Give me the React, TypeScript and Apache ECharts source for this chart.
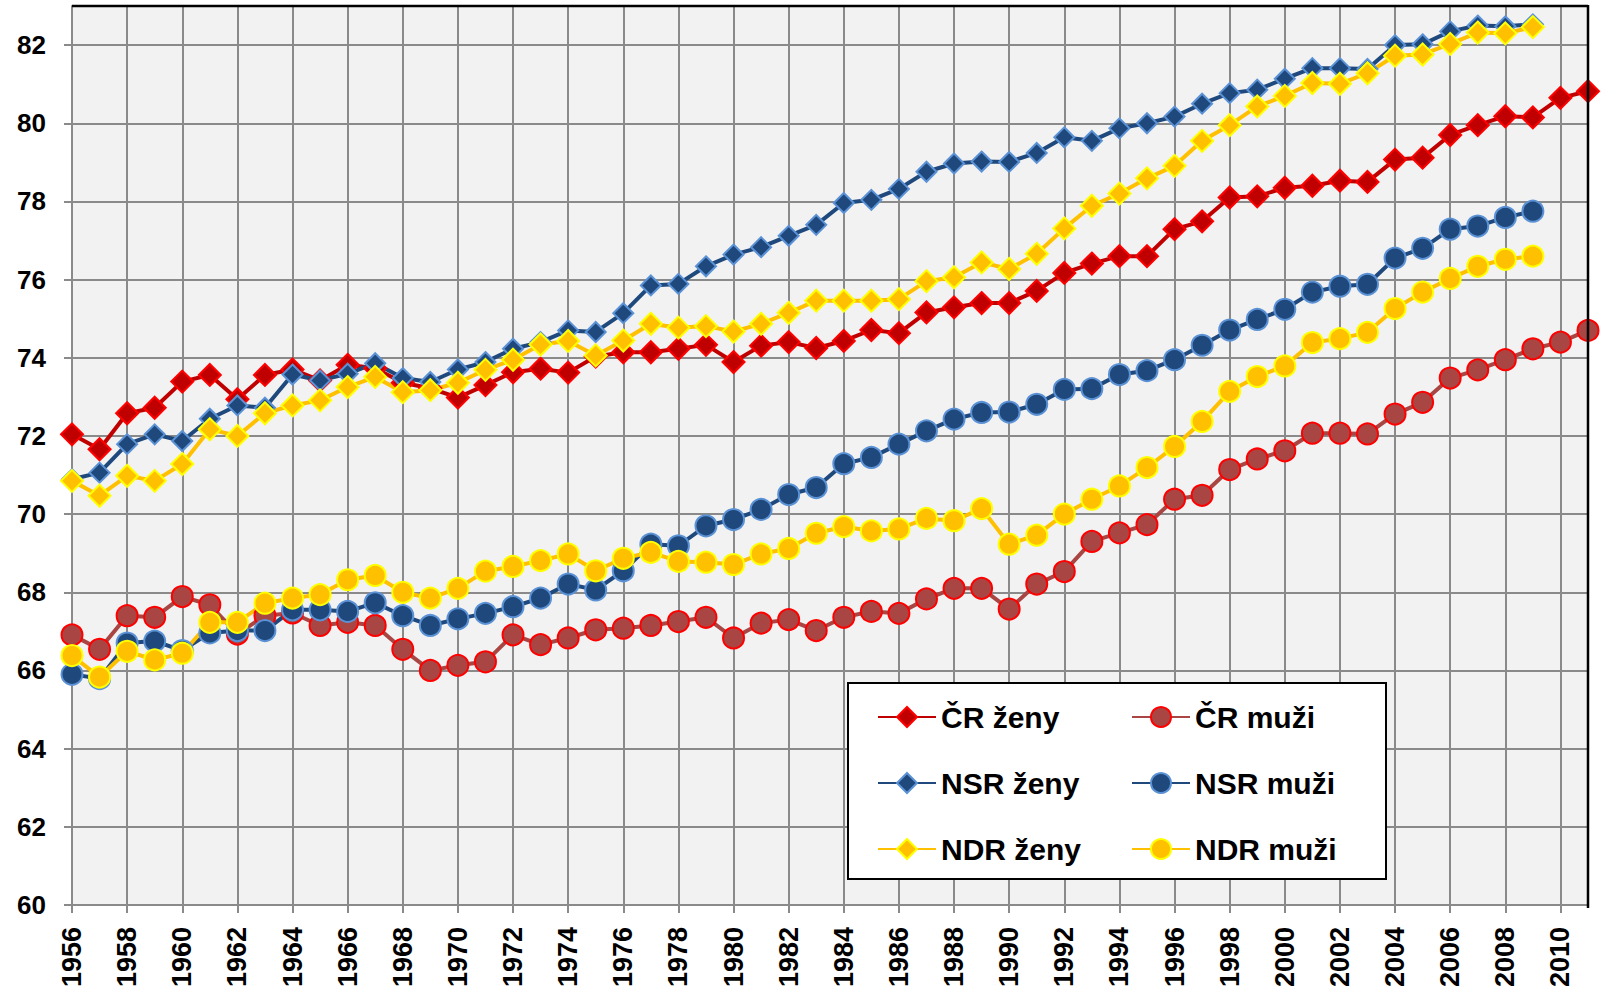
import React, { useEffect, useRef } from "react";
import * as echarts from "echarts";

const years = [
  "1956", "1957", "1958", "1959", "1960", "1961", "1962", "1963", "1964", "1965",
  "1966", "1967", "1968", "1969", "1970", "1971", "1972", "1973", "1974", "1975",
  "1976", "1977", "1978", "1979", "1980", "1981", "1982", "1983", "1984", "1985",
  "1986", "1987", "1988", "1989", "1990", "1991", "1992", "1993", "1994", "1995",
  "1996", "1997", "1998", "1999", "2000", "2001", "2002", "2003", "2004", "2005",
  "2006", "2007", "2008", "2009", "2010", "2011",
];

const crZeny = [
  72.04, 71.66, 72.58, 72.72, 73.39, 73.56, 72.94, 73.56, 73.7, 73.42,
  73.82, 73.73, 73.36, 73.22, 72.98, 73.3, 73.63, 73.72, 73.62, 74.03,
  74.14, 74.14, 74.23, 74.33, 73.89, 74.31, 74.4, 74.25, 74.43, 74.71,
  74.63, 75.16, 75.29, 75.4, 75.4, 75.71, 76.17, 76.41, 76.6, 76.6,
  77.29, 77.49, 78.1, 78.13, 78.35, 78.4, 78.53, 78.5, 79.07, 79.12,
  79.7, 79.95, 80.18, 80.15, 80.65, 80.82,
];

const crMuzi = [
  66.91, 66.54, 67.4, 67.36, 67.89, 67.68, 66.93, 67.4, 67.47, 67.15,
  67.23, 67.15, 66.54, 66.0, 66.13, 66.22, 66.91, 66.66, 66.83, 67.04,
  67.08, 67.15, 67.25, 67.36, 66.83, 67.21, 67.3, 67.02, 67.36, 67.51,
  67.46, 67.83, 68.1, 68.1, 67.57, 68.21, 68.53, 69.3, 69.52, 69.73,
  70.38, 70.48, 71.14, 71.41, 71.62, 72.07, 72.07, 72.05, 72.56, 72.86,
  73.48, 73.69, 73.95, 74.23, 74.4, 74.7,
];

const nsrZeny = [
  70.89, 71.06, 71.79, 72.04, 71.87, 72.44, 72.78, 72.72, 73.57, 73.42,
  73.59, 73.86, 73.48, 73.38, 73.7, 73.89, 74.23, 74.4, 74.7, 74.66,
  75.14, 75.85, 75.89, 76.34, 76.64, 76.83, 77.12, 77.4, 77.96, 78.04,
  78.32, 78.76, 78.97, 79.02, 79.01, 79.24, 79.64, 79.55, 79.87, 80.0,
  80.17, 80.5, 80.77, 80.86, 81.14, 81.41, 81.41, 81.39, 82.0, 82.02,
  82.35, 82.5, 82.48, 82.53, null, null,
];

const nsrMuzi = [
  65.9, 65.79, 66.7, 66.75, 66.51, 66.96, 67.02, 67.02, 67.55, 67.55,
  67.51, 67.73, 67.4, 67.15, 67.32, 67.46, 67.63, 67.85, 68.21, 68.06,
  68.55, 69.23, 69.19, 69.7, 69.86, 70.12, 70.5, 70.68, 71.29, 71.45,
  71.79, 72.13, 72.43, 72.6, 72.61, 72.81, 73.19, 73.21, 73.57, 73.67,
  73.95, 74.32, 74.71, 74.98, 75.24, 75.68, 75.83, 75.88, 76.55, 76.8,
  77.29, 77.37, 77.59, 77.75, null, null,
];

const ndrZeny = [
  70.85, 70.47, 70.98, 70.85, 71.28, 72.17, 72.0, 72.58, 72.78, 72.91,
  73.25, 73.51, 73.12, 73.17, 73.36, 73.69, 73.95, 74.34, 74.43, 74.06,
  74.44, 74.87, 74.77, 74.81, 74.67, 74.87, 75.15, 75.46, 75.46, 75.46,
  75.5, 75.96, 76.06, 76.44, 76.27, 76.66, 77.31, 77.89, 78.2, 78.59,
  78.91, 79.55, 79.95, 80.43, 80.7, 81.03, 81.01, 81.28, 81.73, 81.76,
  82.03, 82.32, 82.3, 82.46, null, null,
];

const ndrMuzi = [
  66.38, 65.83, 66.49, 66.27, 66.44, 67.23, 67.23, 67.72, 67.85, 67.94,
  68.32, 68.43, 68.0, 67.85, 68.1, 68.54, 68.66, 68.81, 68.98, 68.55,
  68.87, 69.02, 68.79, 68.77, 68.71, 68.98, 69.12, 69.51, 69.68, 69.57,
  69.62, 69.89, 69.83, 70.14, 69.23, 69.46, 70.0, 70.38, 70.72, 71.19,
  71.73, 72.37, 73.14, 73.52, 73.79, 74.39, 74.49, 74.65, 75.26, 75.68,
  76.03, 76.34, 76.52, 76.6, null, null,
];

const seriesNames = ["ČR ženy", "ČR muži", "NSR ženy", "NSR muži", "NDR ženy", "NDR muži"];

export default function App() {
  const ref = useRef<HTMLDivElement>(null);

  useEffect(() => {
    const chart = echarts.init(ref.current!, null, { renderer: "svg" });
    const font = "'Liberation Sans', Arial, Helvetica, sans-serif";
    const gridColor = "#8a8a8a";

    const mk = (
      name: string,
      data: (number | null)[],
      symbol: string,
      size: number,
      line: string,
      fill: string,
      border: string
    ) => ({
      name,
      type: "line",
      data,
      symbol,
      symbolSize: size,
      showSymbol: true,
      showAllSymbol: true,
      connectNulls: false,
      lineStyle: { color: line, width: 4 },
      itemStyle: { color: fill, borderColor: border, borderWidth: 2 },
      emphasis: { disabled: true },
    });

    const legendCommon = {
      orient: "vertical",
      padding: 0,
      itemWidth: 58,
      itemHeight: 25,
      itemGap: 36,
      selectedMode: false,
      textStyle: {
        fontFamily: font,
        fontSize: 30,
        fontWeight: "bold",
        color: "#000",
        lineHeight: 30,
      },
      z: 6,
    };

    chart.setOption({
      animation: false,
      backgroundColor: "#ffffff",
      textStyle: { fontFamily: font },
      grid: {
        left: 72,
        right: 13,
        top: 6,
        bottom: 82,
        show: true,
        backgroundColor: "#f2f2f2",
        borderWidth: 0,
      },
      xAxis: {
        type: "category",
        data: years,
        boundaryGap: false,
        axisLine: { show: true, lineStyle: { color: gridColor, width: 2 } },
        axisTick: {
          show: true,
          interval: 1,
          length: 8,
          lineStyle: { color: gridColor, width: 2 },
        },
        axisLabel: {
          interval: 1,
          rotate: 90,
          margin: 22,
          fontSize: 27,
          fontWeight: "bold",
          color: "#000",
          fontFamily: font,
        },
        splitLine: {
          show: true,
          interval: 1,
          lineStyle: { color: gridColor, width: 2 },
        },
      },
      yAxis: {
        type: "value",
        min: 60,
        max: 83,
        interval: 2,
        axisLine: { show: true, lineStyle: { color: gridColor, width: 2 } },
        axisTick: { show: true, length: 8, lineStyle: { color: gridColor, width: 2 } },
        axisLabel: {
          showMaxLabel: false,
          margin: 26,
          fontSize: 26,
          fontWeight: "bold",
          color: "#000",
          fontFamily: font,
        },
        splitLine: { show: true, lineStyle: { color: gridColor, width: 2 } },
      },
      legend: [
        {
          ...legendCommon,
          left: 877,
          top: 702,
          data: [seriesNames[0], seriesNames[2], seriesNames[4]],
        },
        {
          ...legendCommon,
          left: 1131,
          top: 702,
          data: [seriesNames[1], seriesNames[3], seriesNames[5]],
        },
      ],
      graphic: [
        {
          type: "rect",
          left: 847,
          top: 682,
          shape: { width: 538, height: 196 },
          style: { fill: "#ffffff", stroke: "#000000", lineWidth: 2 },
          z: 5,
        },
        {
          type: "line",
          shape: { x1: 72, y1: 6, x2: 1588, y2: 6 },
          style: { stroke: "#000000", lineWidth: 2.5 },
          z: 10,
        },
        {
          type: "line",
          shape: { x1: 1588, y1: 5, x2: 1588, y2: 908 },
          style: { stroke: "#000000", lineWidth: 2.5 },
          z: 10,
        },
      ],
      series: [
        mk(seriesNames[0], crZeny, "diamond", 22, "#c00000", "#c00000", "#ff0000"),
        mk(seriesNames[1], crMuzi, "circle", 21, "#a94543", "#a94543", "#ff0000"),
        mk(seriesNames[2], nsrZeny, "diamond", 20, "#1f497d", "#1f497d", "#5b92d6"),
        mk(seriesNames[3], nsrMuzi, "circle", 21, "#1f497d", "#1f497d", "#5b92d6"),
        mk(seriesNames[4], ndrZeny, "diamond", 22, "#ffc000", "#ffc000", "#ffff00"),
        mk(seriesNames[5], ndrMuzi, "circle", 21, "#ffc000", "#ffc000", "#ffff00"),
      ],
    });

    return () => chart.dispose();
  }, []);

  return (
    <div
      ref={ref}
      style={{ position: "absolute", left: 0, top: 0, width: 1601, height: 990 }}
    />
  );
}
